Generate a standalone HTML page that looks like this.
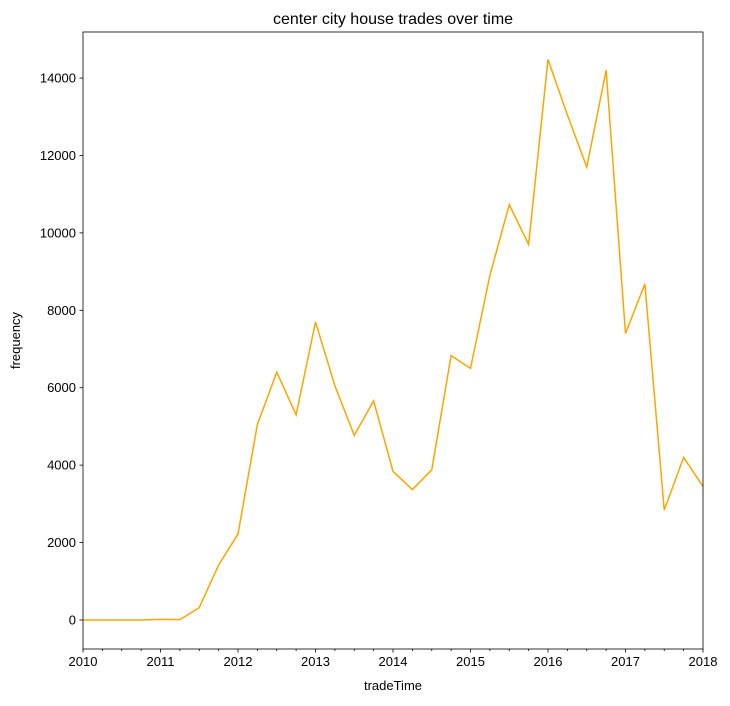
<!DOCTYPE html>
<html><head><meta charset="utf-8"><style>
body{margin:0;background:#fff;}
svg text{font-family:"Liberation Sans",sans-serif;fill:#000;}
</style></head><body>
<svg id="chart" width="730" height="701"></svg>
<script>
const quarters = [2010,2010.25,2010.5,2010.75,2011,2011.25,2011.5,2011.75,2012,2012.25,2012.5,2012.75,2013,2013.25,2013.5,2013.75,2014,2014.25,2014.5,2014.75,2015,2015.25,2015.5,2015.75,2016,2016.25,2016.5,2016.75,2017,2017.25,2017.5,2017.75,2018];
const frequency = [0,0,0,0,15,10,320,1420,2220,5050,6400,5300,7700,6050,4770,5660,3840,3370,3880,6830,6500,8900,10730,9700,14480,13050,11700,14200,7400,8680,2840,4200,3450];
const xTicks = [2010,2011,2012,2013,2014,2015,2016,2017,2018];
const yTicks = [0,2000,4000,6000,8000,10000,12000,14000];

const L=83,R=703,T=32,B=649;
const xMin=2010,xMax=2018,yMin=-750,yMax=15190;
const xs=v=>L+(v-xMin)/(xMax-xMin)*(R-L);
const ys=v=>B-(v-yMin)/(yMax-yMin)*(B-T);
const svg=document.getElementById('chart');
const NS='http://www.w3.org/2000/svg';
function mk(tag,attrs,parent){const e=document.createElementNS(NS,tag);for(const k in attrs)e.setAttribute(k,attrs[k]);(parent||svg).appendChild(e);return e;}

const pts=quarters.map((q,i)=>xs(q).toFixed(2)+','+ys(frequency[i]).toFixed(2)).join(' ');
const line=mk('polyline',{points:pts,fill:'none',stroke:'#ffa500','stroke-width':1.5,'clip-path':'url(#clip)'});


const defs=mk('defs',{});const cp=mk('clipPath',{id:'clip'},defs);mk('rect',{x:L,y:T,width:R-L,height:B-T},cp);

const frame=mk('rect',{x:L,y:T,width:R-L,height:B-T,fill:'none',stroke:'#000','stroke-width':0.8});



for(let q=xMin;q<=xMax;q+=0.25){
  const major=Number.isInteger(q);
  mk('line',{x1:xs(q),x2:xs(q),y1:B,y2:B+(major?3.5:2),stroke:'#000','stroke-width':0.8});
}
xTicks.forEach(t=>{
  const tx=mk('text',{x:xs(t),y:B+17,'font-size':13,'text-anchor':'middle'});
  tx.textContent=t;
  
  
});
yTicks.forEach(t=>{
  mk('line',{x1:L-3.5,x2:L,y1:ys(t),y2:ys(t),stroke:'#000','stroke-width':0.8});
  const tx=mk('text',{x:L-7,y:ys(t)+4.5,'font-size':13,'text-anchor':'end'});
  tx.textContent=t;
  
  
});
const xt=mk('text',{x:(L+R)/2,y:690,'font-size':13,'text-anchor':'middle'});xt.textContent='tradeTime';


const yt=mk('text',{x:20,y:(T+B)/2,'font-size':13,'text-anchor':'middle',transform:`rotate(-90 20 ${(T+B)/2})`});yt.textContent='frequency';


const ti=mk('text',{x:(L+R)/2,y:24,'font-size':16,'text-anchor':'middle'});ti.textContent='center city house trades over time';


</script>
</body></html>
